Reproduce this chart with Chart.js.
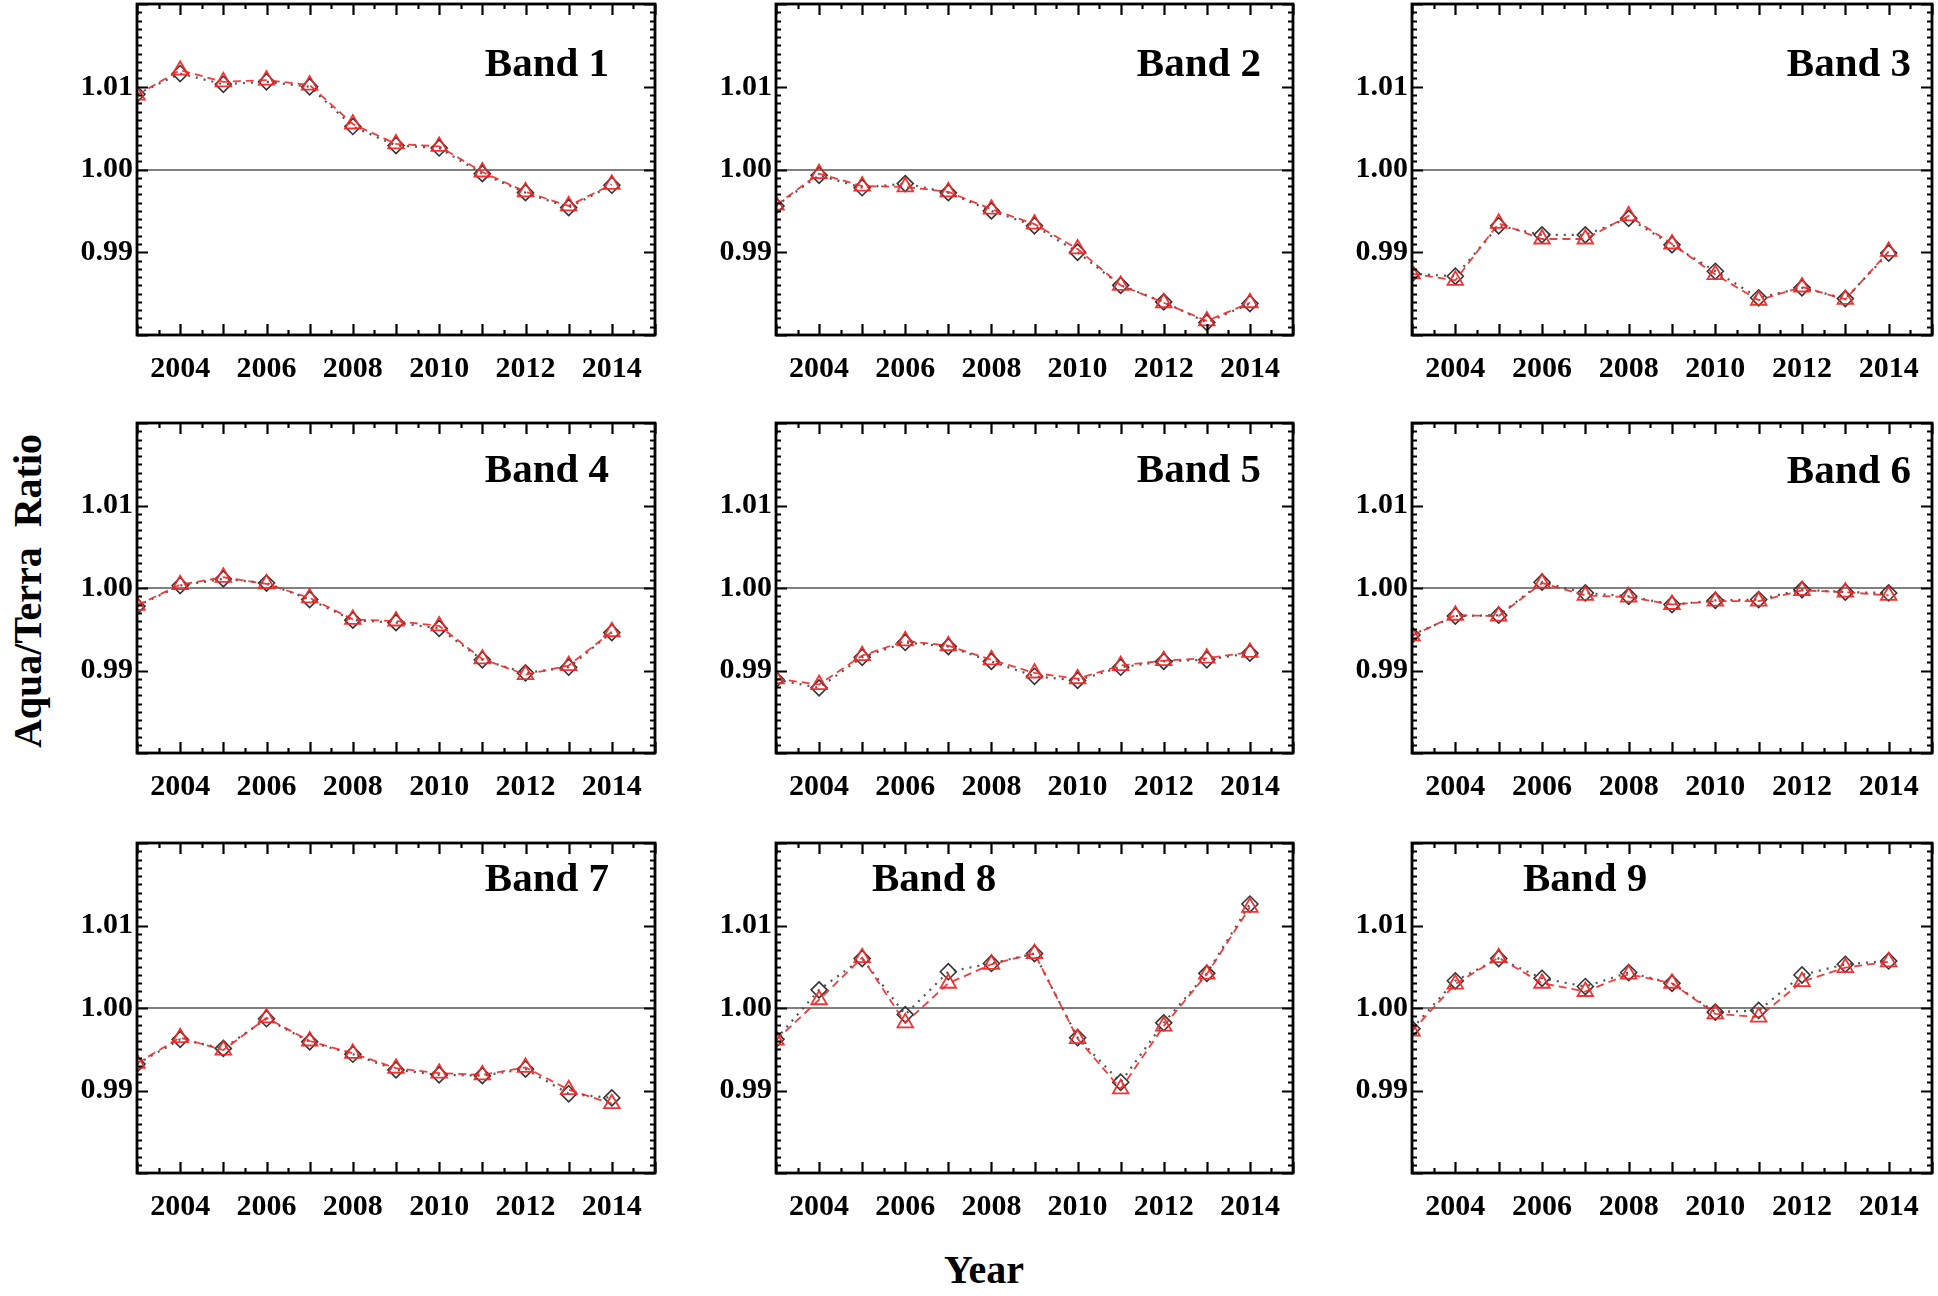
<!DOCTYPE html>
<html>
<head>
<meta charset="utf-8">
<script src="https://cdn.jsdelivr.net/npm/chart.js@4.4.1/dist/chart.umd.min.js"></script>
<style>
  html, body { margin: 0; padding: 0; background: #fff; }
  #page { position: relative; width: 1938px; height: 1296px; overflow: hidden; }
  canvas.panel { position: absolute; }
  .axis-title { position: absolute; font-family: "Liberation Serif", serif; font-weight: bold; font-size: 40px; color: #000; white-space: nowrap; }
</style>
</head>
<body>
<div id="page">
  <div class="axis-title" id="ylab">Aqua/Terra&nbsp; Ratio</div>
  <div class="axis-title" id="xlab">Year</div>
</div>
<script>
// years of the annual points
const years = [2003, 2004, 2005, 2006, 2007, 2008, 2009, 2010, 2011, 2012, 2013, 2014];
const bandNames = ["Band 1", "Band 2", "Band 3", "Band 4", "Band 5", "Band 6", "Band 7", "Band 8", "Band 9"];
const yTickLabels = [0.99, 1.00, 1.01];
const xTickLabels = [2004, 2006, 2008, 2010, 2012, 2014];

// black diamonds (dotted) / red triangles (dashed)
const band1Diamond  = [1.0091, 1.0116, 1.0103, 1.0106, 1.0100, 1.0052, 1.0029, 1.0026, 0.9995, 0.9972, 0.9954, 0.9981];
const band1Triangle = [1.0090, 1.0120, 1.0106, 1.0108, 1.0102, 1.0055, 1.0031, 1.0028, 0.9997, 0.9973, 0.9956, 0.9982];
const band2Diamond  = [0.9956, 0.9993, 0.9978, 0.9983, 0.9972, 0.9950, 0.9932, 0.9900, 0.9860, 0.9840, 0.9815, 0.9838];
const band2Triangle = [0.9957, 0.9995, 0.9980, 0.9979, 0.9973, 0.9952, 0.9934, 0.9904, 0.9860, 0.9839, 0.9817, 0.9839];
const band3Diamond  = [0.9874, 0.9871, 0.9932, 0.9921, 0.9921, 0.9941, 0.9909, 0.9877, 0.9845, 0.9857, 0.9844, 0.9899];
const band3Triangle = [0.9874, 0.9866, 0.9935, 0.9916, 0.9916, 0.9944, 0.9910, 0.9873, 0.9842, 0.9858, 0.9843, 0.9901];
const band4Diamond  = [0.9978, 1.0003, 1.0011, 1.0006, 0.9986, 0.9961, 0.9958, 0.9951, 0.9913, 0.9897, 0.9904, 0.9946];
const band4Triangle = [0.9979, 1.0004, 1.0013, 1.0005, 0.9988, 0.9962, 0.9960, 0.9954, 0.9914, 0.9895, 0.9906, 0.9947];
const band5Diamond  = [0.9889, 0.9879, 0.9916, 0.9934, 0.9929, 0.9911, 0.9893, 0.9888, 0.9904, 0.9911, 0.9913, 0.9921];
const band5Triangle = [0.9890, 0.9883, 0.9918, 0.9936, 0.9930, 0.9913, 0.9897, 0.9890, 0.9906, 0.9912, 0.9915, 0.9922];
const band6Diamond  = [0.9943, 0.9966, 0.9967, 1.0007, 0.9994, 0.9990, 0.9980, 0.9985, 0.9986, 0.9998, 0.9995, 0.9994];
const band6Triangle = [0.9942, 0.9967, 0.9966, 1.0006, 0.9991, 0.9989, 0.9980, 0.9984, 0.9984, 0.9997, 0.9995, 0.9991];
const band7Diamond  = [0.9932, 0.9962, 0.9951, 0.9987, 0.9959, 0.9944, 0.9925, 0.9919, 0.9918, 0.9926, 0.9896, 0.9891];
const band7Triangle = [0.9933, 0.9964, 0.9949, 0.9988, 0.9960, 0.9945, 0.9927, 0.9921, 0.9919, 0.9928, 0.9901, 0.9884];
const band8Diamond  = [0.9962, 1.0022, 1.0060, 0.9992, 1.0044, 1.0054, 1.0066, 0.9964, 0.9910, 0.9982, 1.0042, 1.0126];
const band8Triangle = [0.9961, 1.0010, 1.0061, 0.9982, 1.0030, 1.0053, 1.0066, 0.9963, 0.9902, 0.9978, 1.0041, 1.0122];
const band9Diamond  = [0.9975, 1.0033, 1.0060, 1.0036, 1.0026, 1.0043, 1.0030, 0.9995, 0.9997, 1.0040, 1.0053, 1.0057];
const band9Triangle = [0.9972, 1.0029, 1.0061, 1.0030, 1.0020, 1.0041, 1.0030, 0.9993, 0.9989, 1.0032, 1.0049, 1.0056];

const diamonds  = [band1Diamond, band2Diamond, band3Diamond, band4Diamond, band5Diamond, band6Diamond, band7Diamond, band8Diamond, band9Diamond];
const triangles = [band1Triangle, band2Triangle, band3Triangle, band4Triangle, band5Triangle, band6Triangle, band7Triangle, band8Triangle, band9Triangle];

// layout of the plot boxes (px)
const colBox = [[137, 655], [776, 1293], [1412, 1932]];
const rowBox = [[4, 335], [423, 753], [843, 1173]];
// where the band name sits inside its box: [align, offset from that side, baseline from top]
const namePos = [
    ["right", 46, 72], ["right", 32, 72], ["right", 21, 72],
    ["right", 46, 59], ["right", 32, 59], ["right", 21, 60],
    ["right", 46, 48], ["left", 96, 48], ["left", 111, 48]
];

const YW = 71, XH = 56, PAD = 4;
const SERIF = '"Liberation Serif", "Times New Roman", serif';

const framePlugin = {
    id: "frame",
    afterDatasetsDraw(chart, args, opts) {
        const ctx = chart.ctx, a = chart.chartArea;
        const x = chart.scales.x, y = chart.scales.y;
        ctx.save();
        ctx.strokeStyle = "#000";
        ctx.lineWidth = 2.2;
        ctx.beginPath();
        for (let v = 980; v <= 1020; v++) {
            const py = Math.round(y.getPixelForValue(v / 1000)) + 0.5;
            const len = v % 10 === 0 ? 11 : 5;
            ctx.moveTo(a.left, py); ctx.lineTo(a.left + len, py);
            ctx.moveTo(a.right, py); ctx.lineTo(a.right - len, py);
        }
        for (let h = 4006; h <= 4030; h++) {
            const px = Math.round(x.getPixelForValue(h / 2)) + 0.5;
            const len = h % 2 === 0 ? 11 : 5;
            ctx.moveTo(px, a.bottom); ctx.lineTo(px, a.bottom - len);
            ctx.moveTo(px, a.top); ctx.lineTo(px, a.top + len);
        }
        ctx.stroke();
        ctx.lineWidth = 2.8;
        ctx.strokeRect(a.left, a.top, a.right - a.left, a.bottom - a.top);

        ctx.fillStyle = "#000";
        ctx.font = "bold 41px " + SERIF;
        ctx.textBaseline = "alphabetic";
        const p = opts.pos;
        if (p[0] === "right") {
            ctx.textAlign = "right";
            ctx.fillText(opts.text, a.right - p[1], a.top + p[2]);
        } else {
            ctx.textAlign = "left";
            ctx.fillText(opts.text, a.left + p[1], a.top + p[2]);
        }
        ctx.restore();
    }
};

function renderPanel(i) {
    const col = i % 3, row = Math.floor(i / 3);
    const [L, R] = colBox[col], [T, B] = rowBox[row];
    const cv = document.createElement("canvas");
    cv.className = "panel";
    cv.width = R - L + YW + PAD;
    cv.height = B - T + XH + PAD;
    cv.style.left = (L - YW) + "px";
    cv.style.top = (T - PAD) + "px";
    document.getElementById("page").appendChild(cv);

    new Chart(cv.getContext("2d"), {
        type: "line",
        data: {
            datasets: [
                {
                    label: "triangle",
                    data: years.map((yr, k) => ({x: yr, y: triangles[i][k]})),
                    borderColor: "rgba(240,40,40,0.9)",
                    borderWidth: 1.8,
                    borderDash: [8, 5],
                    backgroundColor: "transparent",
                    pointStyle: "triangle",
                    pointRadius: 9,
                    pointBorderColor: "rgba(240,40,40,0.95)",
                    pointBorderWidth: 1.8,
                    pointBackgroundColor: "transparent",
                    tension: 0,
                    clip: {left: 0, top: 12, right: 12, bottom: 12},
                },
                {
                    label: "diamond",
                    data: years.map((yr, k) => ({x: yr, y: diamonds[i][k]})),
                    borderColor: "#555",
                    borderWidth: 2.2,
                    borderDash: [2, 6],
                    backgroundColor: "transparent",
                    pointStyle: "rectRot",
                    pointRadius: 8,
                    pointBorderColor: "#333",
                    pointBorderWidth: 1.6,
                    pointBackgroundColor: "transparent",
                    tension: 0,
                    clip: {left: 0, top: 12, right: 12, bottom: 12},
                },
            ],
        },
        options: {
            responsive: false,
            animation: false,
            layout: { autoPadding: false, padding: { left: 0, top: PAD, right: PAD, bottom: 0 } },
            plugins: {
                legend: { display: false },
                tooltip: { enabled: false },
                frame: { text: bandNames[i], pos: namePos[i] },
            },
            scales: {
                x: {
                    type: "linear",
                    min: 2003,
                    max: 2015,
                    afterFit: function (s) {
                        s.height = XH;
                        s.paddingLeft = 0; s.paddingRight = 0;
                    },
                    ticks: {
                        stepSize: 1,
                        autoSkip: false,
                        maxRotation: 0,
                        padding: 16,
                        color: "#000",
                        font: { family: SERIF, weight: "bold", size: 30 },
                        callback: function (value) {
                            return xTickLabels.includes(value) ? String(value) : "";
                        },
                    },
                    grid: { display: false, drawTicks: false },
                    border: { display: false },
                },
                y: {
                    min: 0.98,
                    max: 1.02,
                    afterFit: function (s) {
                        s.width = YW;
                        s.paddingTop = 0; s.paddingBottom = 0;
                    },
                    ticks: {
                        stepSize: 0.01,
                        padding: 4,
                        color: "#000",
                        font: { family: SERIF, weight: "bold", size: 30 },
                        callback: function (value) {
                            const hit = yTickLabels.find(t => Math.abs(t - value) < 1e-6);
                            return hit === undefined ? "" : hit.toFixed(2);
                        },
                    },
                    grid: {
                        drawTicks: false,
                        lineWidth: 2,
                        color: function (c) {
                            return c.tick && Math.abs(c.tick.value - 1) < 1e-6 ? "#808080" : "transparent";
                        },
                    },
                    border: { display: false },
                },
            },
        },
        plugins: [framePlugin],
    });
}

for (let i = 0; i < bandNames.length; i++) {
    renderPanel(i);
}

const ylab = document.getElementById("ylab");
ylab.style.left = "27px";
ylab.style.top = "591px";
ylab.style.transform = "translate(-50%, -50%) rotate(-90deg)";
const xlab = document.getElementById("xlab");
xlab.style.left = "984px";
xlab.style.top = "1269px";
xlab.style.transform = "translate(-50%, -50%)";
</script>
</body>
</html>
